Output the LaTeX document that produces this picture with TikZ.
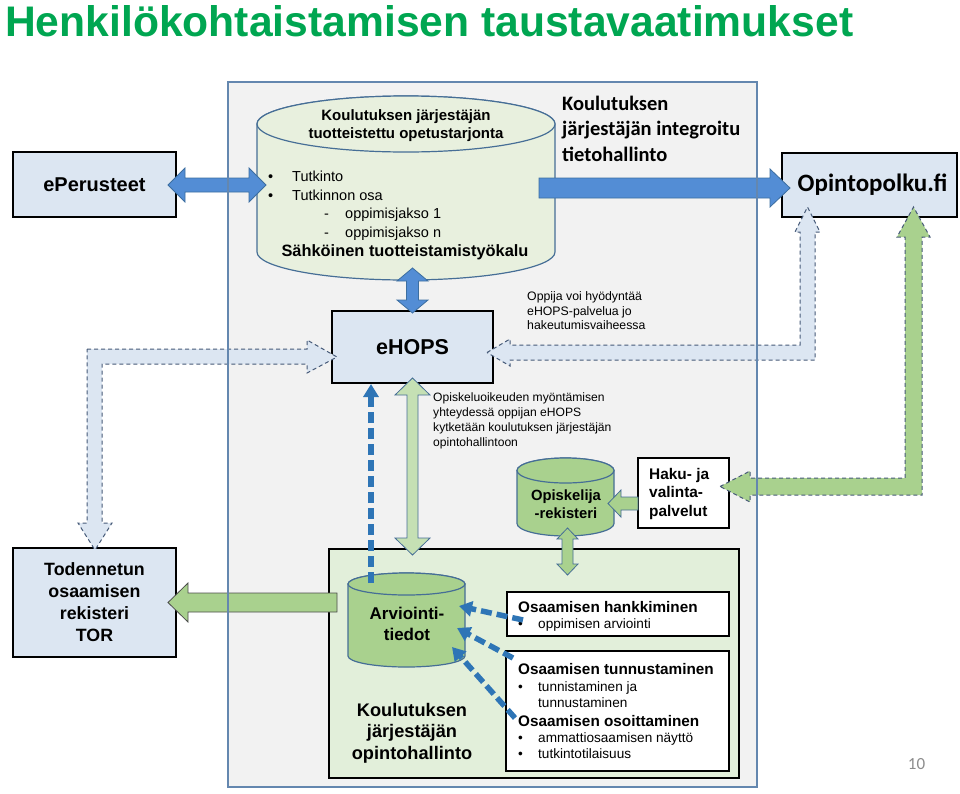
\documentclass[tikz,border=0pt]{standalone}
\usepackage{graphicx}
\usepackage{fontspec}
\setmainfont{Liberation Sans}
\newfontfamily\carlito{Carlito}
\usetikzlibrary{arrows.meta,calc}
\definecolor{titlegreen}{RGB}{0,166,81}
\definecolor{lblue}{RGB}{220,230,242}
\definecolor{panelgray}{RGB}{242,242,242}
\definecolor{panelline}{RGB}{100,135,175}
\definecolor{edgeblue}{RGB}{70,110,150}
\definecolor{arrblue}{RGB}{83,141,213}
\definecolor{arrblueedge}{RGB}{60,110,160}
\definecolor{dkgreen}{RGB}{169,209,142}
\definecolor{pgreen}{RGB}{197,224,180}
\definecolor{palegreen}{RGB}{226,239,218}
\definecolor{cylpale}{RGB}{232,240,222}
\definecolor{dashblue}{RGB}{46,117,182}
\definecolor{dashedge}{RGB}{70,90,120}
\newcommand\drawcyl[6]{%
  \path[#6] (#1-#4,#2+#5) -- (#1-#4,#3-#5)
    arc[start angle=180,end angle=0,x radius=#4,y radius=#5]
    -- (#1+#4,#2+#5)
    arc[start angle=0,end angle=-180,x radius=#4,y radius=#5] -- cycle;
  \path[#6] (#1,#2+#5) ellipse[x radius=#4,y radius=#5];
}
\begin{document}
\begin{tikzpicture}[x=1pt,y=-1pt,
  box/.style={draw=black, line width=1.5pt, inner sep=0pt},
  cylstyle/.style={draw=edgeblue, line width=1.2pt},
  blockarrow/.style={fill=arrblue, draw=arrblueedge, line width=0.8pt},
  garrow/.style={fill=dkgreen, draw=edgeblue, line width=0.8pt},
  pgarrow/.style={fill=pgreen, draw=edgeblue, line width=0.8pt},
  dasharrow/.style={draw=dashedge, dash pattern=on 4pt off 3pt, line width=1pt},
  bluedash/.style={draw=dashblue, line width=5.5pt, dash pattern=on 11pt off 5pt, -{Triangle[length=13pt,width=15pt]}},
  txt/.style={inner sep=0pt, text=black},
  listtxt/.style={txt, anchor=base west, font=\fontsize{14.5}{17}\selectfont},
  boxtxt/.style={txt, anchor=base west, font=\fontsize{13.6}{16}\selectfont},
  boxhead/.style={txt, anchor=base west, font=\bfseries\fontsize{15.3}{18}\selectfont}]
\useasboundingbox (0,0) rectangle (960,793);

% panel background
\fill[panelgray] (228,82) rectangle (757,787);

% title
\node[anchor=south west, inner sep=0pt, text=titlegreen] (title) at (5,37)
  {\resizebox{848pt}{31pt}{\bfseries Henkilökohtaistamisen taustavaatimukset}};

% boxes
\node[box, fill=lblue, minimum width=163pt, minimum height=65pt, font=\bfseries\fontsize{20}{24}\selectfont] (eper) at (94.5,184.5) {ePerusteet};
\node[box, fill=lblue, minimum width=175pt, minimum height=64pt, font=\carlito\bfseries\fontsize{25}{28}\selectfont] (opintopolku) at (869.5,185) {\hspace*{6pt}Opintopolku.fi};
\node[box, fill=lblue, minimum width=161pt, minimum height=72pt, font=\bfseries\fontsize{21.5}{26}\selectfont] (ehops) at (412.5,347) {eHOPS};
\node[box, fill=palegreen, minimum width=410pt, minimum height=229pt] (opinto) at (534,663.5) {};
\node[box, fill=lblue, minimum width=163pt, minimum height=109pt, align=center, font=\bfseries\fontsize{17.8}{22}\selectfont] (tor) at (94.5,602.5) {Todennetun\\osaamisen\\rekisteri\\TOR};
\node[box, fill=white, minimum width=91pt, minimum height=70pt] (haku) at (683.5,493) {};
\node[box, fill=white, minimum width=222pt, minimum height=44pt] (hank) at (618,614) {};
\node[box, fill=white, minimum width=223pt, minimum height=120pt] (tunn) at (617.5,711) {};

% cylinders
\drawcyl{406}{96}{280}{149}{28}{cylstyle, fill=cylpale}
\drawcyl{565.5}{458}{536}{48.5}{12.5}{cylstyle, fill=dkgreen}
\drawcyl{406.5}{573}{667}{58.5}{11}{cylstyle, fill=dkgreen}

% texts of the big cylinder
\node[txt, align=center, font=\bfseries\fontsize{15}{18.5}\selectfont] (cyltitle) at (406,125.5) {Koulutuksen järjestäjän\\tuotteistettu opetustarjonta};
\node[listtxt] (l1) at (268,181.5) {\makebox[24pt][l]{•}Tutkinto};
\node[listtxt] (l2) at (268,200) {\makebox[24pt][l]{•}Tutkinnon osa};
\node[listtxt] (l3) at (324,218.5) {\makebox[21pt][l]{-}oppimisjakso 1};
\node[listtxt] (l4) at (324,237) {\makebox[21pt][l]{-}oppimisjakso n};
\node[txt, anchor=base, font=\bfseries\fontsize{16.4}{20}\selectfont] (tool) at (405,256.5) {Sähköinen tuotteistamistyökalu};

% other texts
\node[txt, anchor=west, align=left, font=\carlito\bfseries\fontsize{20.5}{25.5}\selectfont] (tieto) at (562,128.5) {Koulutuksen\\järjestäjän integroitu\\tietohallinto};
\node[txt, anchor=west, align=left, font=\fontsize{12.3}{14.5}\selectfont] (oppija) at (527,311) {Oppija voi hyödyntää\\eHOPS-palvelua jo\\hakeutumisvaiheessa};
\node[txt, anchor=west, align=left, font=\fontsize{12.1}{15}\selectfont] (opisk) at (433,420.5) {Opiskeluoikeuden myöntämisen\\yhteydessä oppijan eHOPS\\kytketään koulutuksen järjestäjän\\opintohallintoon};
\node[txt, align=center, font=\bfseries\fontsize{14.8}{18.5}\selectfont] (rekisteri) at (566,504) {Opiskelija\\-rekisteri};
\node[txt, anchor=west, align=left, font=\bfseries\fontsize{15.4}{18.5}\selectfont] (hakutxt) at (649,494) {Haku- ja\\valinta-\\palvelut};
\node[txt, align=center, font=\bfseries\fontsize{17}{21}\selectfont] (arvio) at (407,624) {Arviointi-\\tiedot};
\node[txt, align=center, font=\bfseries\fontsize{18.2}{21.5}\selectfont] (opintotxt) at (412,733) {Koulutuksen\\järjestäjän\\opintohallinto};

\node[boxhead] (h1) at (518,612) {Osaamisen hankkiminen};
\node[boxtxt] (h1a) at (518,628) {\makebox[20pt][l]{•}oppimisen arviointi};
\node[boxhead] (h2) at (518,674.5) {Osaamisen tunnustaminen};
\node[boxtxt] (h2a) at (518,691) {\makebox[20pt][l]{•}tunnistaminen ja};
\node[boxtxt] (h2b) at (538,707) {tunnustaminen};
\node[boxhead] (h3) at (518,726.5) {Osaamisen osoittaminen};
\node[boxtxt] (h3a) at (518,742) {\makebox[20pt][l]{•}ammattiosaamisen näyttö};
\node[boxtxt] (h3b) at (518,758) {\makebox[20pt][l]{•}tutkintotilaisuus};

\node[txt, text=black!45, font=\carlito\fontsize{17}{20}\selectfont] (pagenum) at (916.5,764) {10};

% block arrows (blue)
\draw[blockarrow] (539,178) -- (770,178) -- (770,169) -- (790,188) -- (770,207) -- (770,198) -- (539,198) -- cycle;
\draw[blockarrow] (168,185) -- (185,168) -- (185,178) -- (249,178) -- (249,168) -- (266,185) -- (249,202) -- (249,192) -- (185,192) -- (185,202) -- cycle;
\draw[blockarrow] (412.5,268) -- (428,281) -- (418.5,281) -- (418.5,300) -- (428,300) -- (412.5,313) -- (397,300) -- (406.5,300) -- (406.5,281) -- (397,281) -- cycle;

% green block arrows
\draw[pgarrow] (412.5,378) -- (430,395) -- (418,395) -- (418,538) -- (430,538) -- (412.5,555) -- (395,538) -- (407,538) -- (407,395) -- (395,395) -- cycle;
\draw[garrow] (567.5,528) -- (578,539) -- (573,539) -- (573,564) -- (578,564) -- (567.5,575) -- (557,564) -- (562,564) -- (562,539) -- (557,539) -- cycle;
\draw[garrow] (608,503.5) -- (621,490) -- (621,497) -- (638,497) -- (638,510) -- (621,510) -- (621,517) -- cycle;
\draw[garrow, draw=black!70] (168,602.5) -- (188,583) -- (188,593) -- (337,593) -- (337,612) -- (188,612) -- (188,622) -- cycle;

% dashed bent arrows
\path[fill=lblue] (87,349) -- (307,349) -- (307,340) -- (337,357) -- (307,373) -- (307,364) -- (102,364) -- (102,523) -- (112,523) -- (95,550) -- (78,523) -- (87,523) -- cycle;
\draw[dasharrow] (87,349) -- (307,349) -- (307,340) -- (337,357) -- (307,373) -- (307,364) -- (102,364) -- (102,523) -- (112,523) -- (95,550) -- (78,523) -- (87,523) -- cycle;
\path[fill=lblue] (487,352.5) -- (510,339) -- (510,345) -- (800,345) -- (800,232) -- (795,232) -- (807.5,207) -- (820,232) -- (815,232) -- (815,360) -- (510,360) -- (510,366) -- cycle;
\draw[dasharrow] (487,352.5) -- (510,339) -- (510,345) -- (800,345) -- (800,232) -- (795,232) -- (807.5,207) -- (820,232) -- (815,232) -- (815,360) -- (510,360) -- (510,366) -- cycle;
\path[fill=dkgreen] (720,486.5) -- (750,471) -- (750,478) -- (905,478) -- (905,237) -- (897,237) -- (913.5,207) -- (930,237) -- (922,237) -- (922,495) -- (750,495) -- (750,502) -- cycle;
\draw[dasharrow] (720,486.5) -- (750,471) -- (750,478) -- (905,478) -- (905,237) -- (897,237) -- (913.5,207) -- (930,237) -- (922,237) -- (922,495) -- (750,495) -- (750,502) -- cycle;

% panel border
\draw[panelline, line width=1.2pt] (228,82) rectangle (757,787);

% blue dashed connectors
\coordinate (arvtop) at (371,583);
\coordinate (ehopsbot) at (371,384);
\coordinate (s1) at (523,620);
\coordinate (e1) at (459,606);
\coordinate (s2) at (513,658);
\coordinate (e2) at (457,628);
\coordinate (s3) at (515,718);
\coordinate (e3) at (452,647);
\draw[bluedash] (arvtop) -- (ehopsbot);
\draw[bluedash] (s1) -- (e1);
\draw[bluedash] (s2) -- (e2);
\draw[bluedash] (s3) -- (e3);
\end{tikzpicture}
\end{document}
